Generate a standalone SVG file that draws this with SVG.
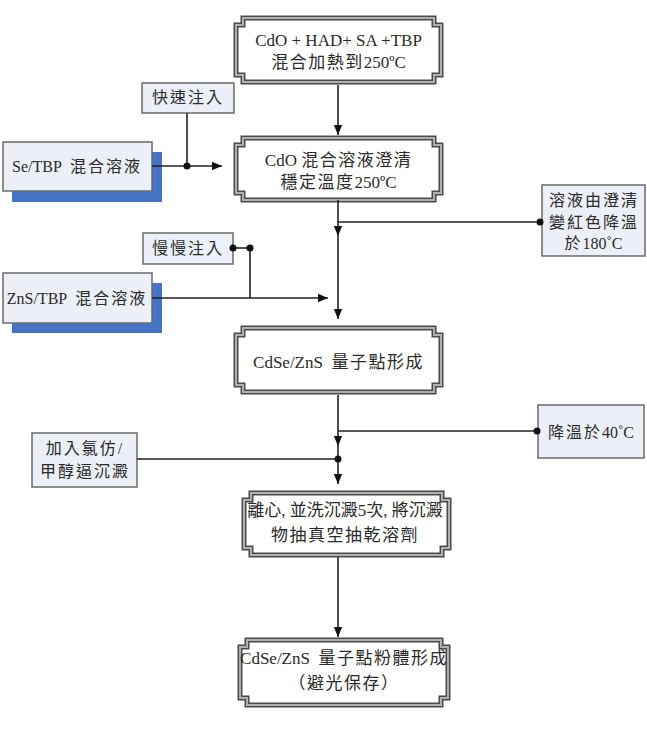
<svg xmlns="http://www.w3.org/2000/svg" width="647" height="747" viewBox="0 0 647 747">
<style>
.fo{fill:#fff;stroke:#4a4a4a;stroke-width:5}
.fi{fill:none;stroke:#b0b0b0;stroke-width:2}
.sb{fill:#ECEFF8;stroke:#6a6a6a;stroke-width:1.5}
.sh{fill:#4472C4}
.t{font-family:"Liberation Serif","Noto Sans CJK TC",serif;font-size:17px;fill:#2a2a2a;text-anchor:middle}
.s{font-family:"Liberation Serif","Noto Sans CJK TC",serif;font-size:16px;fill:#2a2a2a;text-anchor:middle}
.k{letter-spacing:1.5px}
.k2{letter-spacing:2px}
.c{fill:none;stroke:#222;stroke-width:1.6}
.d{fill:#111}
</style>
<defs>
<marker id="ah" markerWidth="10" markerHeight="12" refX="12" refY="5" viewBox="0 0 12 10" orient="auto" markerUnits="userSpaceOnUse">
<path d="M0,0 L12,5 L0,10 Z" fill="#111"/>
</marker>
</defs>
<rect width="647" height="747" fill="#fff"/>

<g id="n1">
<path class="fo" d="M243 18 H434 V25 H441 V75 H434 V82 H243 V75 H236 V25 H243 Z"/>
<path class="fi" d="M243 18 H434 V25 H441 V75 H434 V82 H243 V75 H236 V25 H243 Z"/>
<text class="t" x="338.5" y="46">CdO + HAD+ SA +TBP</text>
<text class="t" x="338.5" y="68"><tspan class="k">混合加熱到</tspan>250ºC</text>
</g>

<g id="n2">
<path class="fo" d="M243 138 H434 V145 H441 V193 H434 V200 H243 V193 H236 V145 H243 Z"/>
<path class="fi" d="M243 138 H434 V145 H441 V193 H434 V200 H243 V193 H236 V145 H243 Z"/>
<text class="t" x="338.5" y="166">CdO <tspan class="k">混合溶液澄清</tspan></text>
<text class="t" x="338.5" y="188"><tspan class="k">穩定溫度</tspan>250ºC</text>
</g>

<g id="n3">
<path class="fo" d="M243 328 H434 V335 H441 V385 H434 V392 H243 V385 H236 V335 H243 Z"/>
<path class="fi" d="M243 328 H434 V335 H441 V385 H434 V392 H243 V385 H236 V335 H243 Z"/>
<text class="t" x="338.5" y="368">CdSe/ZnS&#160;&#160;<tspan class="k">量子點形成</tspan></text>
</g>

<g id="n4">
<path class="fo" d="M251 493 H442 V500 H449 V548 H442 V555 H251 V548 H244 V500 H251 Z"/>
<path class="fi" d="M251 493 H442 V500 H449 V548 H442 V555 H251 V548 H244 V500 H251 Z"/>
<text class="t" x="345" y="516">離心, 並洗沉澱5次, 將沉澱</text>
<text class="t" x="345" y="541"><tspan class="k">物抽真空抽乾溶劑</tspan></text>
</g>

<g id="n5">
<path class="fo" d="M247 640 H441 V647 H448 V698 H441 V705 H247 V698 H240 V647 H247 Z"/>
<path class="fi" d="M247 640 H441 V647 H448 V698 H441 V705 H247 V698 H240 V647 H247 Z"/>
<text class="t" x="344" y="664">CdSe/ZnS&#160;&#160;<tspan class="k">量子點粉體形成</tspan></text>
<text class="t" x="344" y="689"><tspan class="k">（避光保存）</tspan></text>
</g>

<g id="se">
<rect class="sh" x="12" y="152" width="150" height="50"/>
<rect class="sb" x="3" y="142" width="149" height="49"/>
<text class="s" x="77" y="172">Se/TBP&#160;&#160;<tspan class="k2">混合溶液</tspan></text>
</g>

<g id="fast">
<rect class="sb" x="142" y="83" width="92" height="30"/>
<text class="s k2" x="188" y="103">快速注入</text>
</g>

<g id="red">
<rect class="sb" x="542" y="185" width="103" height="71"/>
<text class="s k2" x="594" y="206">溶液由澄清</text>
<text class="s k2" x="594" y="228">變紅色降溫</text>
<text class="s" x="593.5" y="249"><tspan class="k2">於</tspan>180˚C</text>
</g>

<g id="slow">
<rect class="sb" x="143" y="233" width="90" height="31"/>
<text class="s k2" x="188" y="254">慢慢注入</text>
</g>

<g id="zns">
<rect class="sh" x="12" y="283" width="150" height="50"/>
<rect class="sb" x="3" y="273" width="149" height="50"/>
<text class="s" x="77" y="304">ZnS/TBP&#160;&#160;<tspan class="k2">混合溶液</tspan></text>
</g>

<g id="cool">
<rect class="sb" x="538" y="405" width="106" height="53"/>
<text class="s" x="591" y="438"><tspan class="k2">降溫於</tspan>40˚C</text>
</g>

<g id="chcl">
<rect class="sb" x="32" y="433" width="105" height="54"/>
<text class="s k2" x="85" y="454">加入氯仿/</text>
<text class="s k2" x="85" y="477">甲醇逼沉澱</text>
</g>

<g id="connectors">
<line class="c" x1="338" y1="85" x2="338" y2="135" marker-end="url(#ah)"/>
<line class="c" x1="152" y1="166" x2="222" y2="166" marker-end="url(#ah)"/>
<line class="c" x1="187" y1="113" x2="187" y2="166"/>
<circle class="d" cx="187" cy="166" r="3.5"/>
<line class="c" x1="338" y1="200" x2="338" y2="236" marker-end="url(#ah)"/>
<line class="c" x1="338" y1="236" x2="338" y2="319" marker-end="url(#ah)"/>
<line class="c" x1="338" y1="222" x2="540" y2="222"/>
<circle class="d" cx="540" cy="222" r="3.5"/>
<line class="c" x1="233" y1="248" x2="250" y2="248"/>
<line class="c" x1="250" y1="248" x2="250" y2="298"/>
<circle class="d" cx="233" cy="248" r="3.5"/>
<circle class="d" cx="250" cy="248" r="3.5"/>
<line class="c" x1="152" y1="298" x2="328" y2="298" marker-end="url(#ah)"/>
<line class="c" x1="338" y1="395" x2="338" y2="446" marker-end="url(#ah)"/>
<line class="c" x1="338" y1="431" x2="537" y2="431"/>
<circle class="d" cx="537" cy="431" r="3.5"/>
<line class="c" x1="338" y1="446" x2="338" y2="484" marker-end="url(#ah)"/>
<line class="c" x1="137" y1="459" x2="338" y2="459"/>
<circle class="d" cx="338" cy="459" r="3.5"/>
<line class="c" x1="338" y1="557" x2="338" y2="637" marker-end="url(#ah)"/>
</g>
</svg>
